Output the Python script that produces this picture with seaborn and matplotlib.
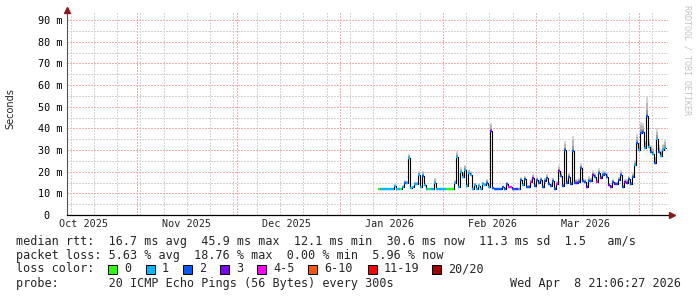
import matplotlib
matplotlib.use("Agg")
import numpy as np
import pandas as pd
import matplotlib.pyplot as plt
import matplotlib.dates as mdates
from matplotlib.patches import Rectangle
from matplotlib.ticker import MultipleLocator, FuncFormatter, NullFormatter
import seaborn as sns

# ---------------- data ----------------
start_time = "2026-01-12 11:40"
step_minutes = 866
view_start = "2025-10-10 22:30"
view_end = "2026-04-09 17:00"

median_ms = [
    12, 12, 12, 12, 12, 12, 12, 12, 13.5, 12, 12, 12, 13, 15, 15, 26.5, 12.5, 13,
    14.4, 14.4, 18.5, 13, 18, 14, 12, 12, 12, 12, 15, 12, 12, 12, 12, 12, 12, 12,
    12, 12, 15, 27, 13, 20, 17.7, 21, 13.5, 19.5, 18.6, 12, 14, 12, 13.5, 12, 14.4,
    14, 15, 13, 39, 12.5, 12, 12, 12, 12, 13, 12, 14.4, 13, 13, 12, 12, 12, 12,
    16.2, 14, 16.7, 13, 13, 15.3, 17, 13.5, 16.2, 15, 16.2, 13, 15.8, 17, 14.4, 13.5,
    15.8, 12, 14.4, 20.4, 18, 13.5, 30, 15, 17.7, 14.4, 29.5, 15, 15, 15.3, 21.8,
    15.8, 15.3, 13, 15.8, 15.8, 18.6,
    17.7, 15.3, 19.5, 17, 18.6, 19, 17.7, 14, 13, 15.3, 14.4, 14.4, 16.2, 18.6, 13,
    15.3, 15, 16.7, 14.4, 17.7, 23, 33.4, 30, 38, 38.5, 31, 45.5, 31.6, 29.2, 28.3,
    24, 35, 29.2, 27.4, 30, 31,
]
loss_bin = [
    0, 1, 1, 1, 1, 1, 1, 1, 1, 1, 1, 0, 1, 2, 1, 1, 1, 1, 1, 1, 1, 1, 2, 1, 1, 0,
    1, 1, 1, 1, 1, 1, 1, 1, 0, 0,
    0, 0, 1, 1, 1, 1, 1, 1, 1, 1, 1, 1, 1, 1, 1, 1, 1, 1, 2, 1, 3, 2, 2, 2, 2, 2,
    2, 2, 2, 4, 4, 2, 2, 3, 1,
    2, 1, 2, 2, 2, 4, 3, 2, 2, 2, 2, 2, 2, 2, 2, 2, 2, 2, 4, 3, 2, 2, 2, 2, 2, 2,
    2, 2, 3, 2, 2, 2, 2, 3, 2, 2, 3,
    2, 4, 2, 3, 2, 2, 2, 3, 3, 2, 3, 2, 2, 2, 2, 3, 3, 2, 2, 2, 1, 2, 1, 2, 2, 1,
    2, 1, 2, 1, 2, 1, 2, 1, 1, 1,
]
smoke_ms = [
    0, 0, 0, 0, 0, 0, 0, 0, 0.8, 0, 0, 0, 0.8, 1, 0.8, 1.8, 0.5, 0.5, 1, 1, 2, 0.5,
    2.5, 1, 0.3, 0, 0, 0, 2, 0.3, 0, 0, 0, 0, 0, 0,
    0, 0.3, 1, 2.5, 0.5, 2, 2, 2, 1, 1.5, 1.5, 0.5, 1, 0.3, 1, 0.3, 1, 1, 1.5, 1,
    3.5, 0.5, 0.3, 0.3, 0.3, 0.5, 0.5, 0.5, 0.8, 0.5, 0.5, 0.3, 0.3, 0.5, 0.5,
    1.5, 0.8, 1.5, 0.8, 1, 1.5, 2, 1, 1.5, 1, 1.5, 0.8, 1.5, 2, 1, 1, 1.5, 0.8, 1.5,
    2.5, 2, 1, 4, 1, 2, 1, 7, 1.5, 1.5, 2, 2, 1.5, 1.5, 1, 2, 1.5, 2,
    2, 1.5, 2, 1.5, 2, 1.5, 1.5, 1, 1, 1.5, 1, 1, 1.5, 2, 1, 1.5, 1.5, 1.5, 1, 2,
    2.5, 4, 3, 5, 4, 3, 9, 3, 3, 3, 3, 5, 3, 3, 3, 4,
]

loss_labels = ["0", "1", "2", "3", "4-5", "6-10", "11-19", "20/20"]
loss_colors = ["#26ff00", "#00b8ff", "#0059ff", "#7e00ff", "#ff00ff",
               "#ff5500", "#ff0000", "#a10000"]
month_labels = ["Oct 2025", "Nov 2025", "Dec 2025", "Jan 2026", "Feb 2026", "Mar 2026"]
month_label_dates = ["2025-10-16", "2025-11-16", "2025-12-16", "2026-01-16",
                     "2026-02-16", "2026-03-16"]

stats_line1 = "median rtt:  16.7 ms avg  45.9 ms max  12.1 ms min  30.6 ms now  11.3 ms sd  1.5   am/s"
stats_line2 = "packet loss: 5.63 % avg  18.76 % max  0.00 % min  5.96 % now"
loss_box_x = [108, 146, 183, 220, 257, 308, 368, 432]
probe_line = "probe:       20 ICMP Echo Pings (56 Bytes) every 300s"
stamp_text = "Wed Apr  8 21:06:27 2026"

# ---------------- style ----------------
sns.set_style("white")
plt.rcParams["font.family"] = ["DejaVu Sans Mono", "DejaVu Sans"]

W, H = 697, 297
fig = plt.figure(figsize=(W / 100, H / 100), dpi=100)
fig.patch.set_facecolor("white")
L, R, T, B = 67, 668, 13, 215
ax = fig.add_axes([L / W, (H - B) / H, (R - L) / W, (B - T) / H])
ax.set_facecolor("white")

times = pd.date_range(start=start_time, periods=len(median_ms), freq=f"{step_minutes}min")
tnum = mdates.date2num(times.to_pydatetime())
step_days = step_minutes / 1440.0
vals = np.array(median_ms, dtype=float)
smk = np.array(smoke_ms, dtype=float)

# smoke (ping spread) in three grey bands
bands = [(0.0, 0.35, "#9a9a9a"), (0.35, 0.7, "#b8b8b8"), (0.7, 1.0, "#d6d6d6")]
for lo, hi, col in bands:
    ax.bar(tnum, smk * (hi - lo), bottom=vals + smk * lo, width=step_days,
           align="edge", color=col, linewidth=0, zorder=2)

# black median step line
df = pd.DataFrame({"t": np.append(tnum, tnum[-1] + step_days),
                   "v": np.append(vals, vals[-1])})
sns.lineplot(data=df, x="t", y="v", drawstyle="steps-post", color="black",
             linewidth=0.8, estimator=None, sort=False, ax=ax, zorder=3)
# loss coloured median segments
ax.hlines(vals, tnum, tnum + step_days, colors=[loss_colors[b] for b in loss_bin],
          linewidth=1.7, zorder=4)

# axes limits
x0 = mdates.date2num(pd.Timestamp(view_start).to_pydatetime())
x1 = mdates.date2num(pd.Timestamp(view_end).to_pydatetime())
ax.set_xlim(x0, x1)
ax.set_ylim(0, (B - T) / (195 / 90))
ax.set_xlabel("")
ax.set_ylabel("")

# grid
red = "#f0b0b0"
grey = "#d4d4d4"
ax.xaxis.set_major_locator(mdates.MonthLocator())
ax.xaxis.set_minor_locator(mdates.WeekdayLocator(byweekday=mdates.SU))
ax.xaxis.set_major_formatter(NullFormatter())
ax.xaxis.set_minor_formatter(NullFormatter())
ax.yaxis.set_major_locator(MultipleLocator(10))
ax.yaxis.set_minor_locator(MultipleLocator(5))
ax.yaxis.set_major_formatter(FuncFormatter(lambda v, p: "0  " if v == 0 else f"{int(round(v))} m"))
ax.grid(which="minor", color=grey, linestyle=(0, (1, 1)), linewidth=0.75, antialiased=False)
ax.grid(which="major", color=red, linestyle=(0, (1, 1)), linewidth=0.75, antialiased=False)
ax.set_axisbelow(True)
ax.tick_params(axis="y", which="major", length=3, width=0.75, color=red, pad=0.5,
               labelsize=7.3, labelcolor="black")
ax.tick_params(axis="y", which="minor", length=3, width=0.75, color=grey)
ax.tick_params(axis="x", which="major", length=3, width=0.75, color=red)
ax.tick_params(axis="x", which="minor", length=2, width=0.75, color=grey)
for lab in ax.get_yticklabels():
    lab.set_family("DejaVu Sans Mono")

for s in ["top", "right"]:
    ax.spines[s].set_visible(False)
ax.spines["left"].set_color("#555555")
ax.spines["left"].set_linewidth(0.8)
ax.spines["bottom"].set_color("black")
ax.spines["bottom"].set_linewidth(0.9)
ax.spines["left"].set_zorder(5)
ax.spines["bottom"].set_zorder(5)

# arrows
ax.plot([0], [1 + 3 / (B - T)], marker="^", color="#8b1a1a", markersize=4.5,
        transform=ax.transAxes, clip_on=False, zorder=6)
ax.plot([1 + 4 / (R - L)], [0], marker=">", color="#8b1a1a", markersize=4.5,
        transform=ax.transAxes, clip_on=False, zorder=6)

# month labels (centred mid-month)
for lab, d in zip(month_labels, month_label_dates):
    xd = mdates.date2num(pd.Timestamp(d).to_pydatetime())
    ax.annotate(lab, xy=(xd, 0), xycoords=("data", "axes fraction"),
                xytext=(0, -9), textcoords="offset pixels", ha="center", va="center",
                fontsize=7.3, family="DejaVu Sans Mono")

# unit label and watermark
fig.text(10 / W, 1 - 109 / H, "Seconds", rotation=90, ha="center", va="center",
         fontsize=7, family="DejaVu Sans")
fig.text(687 / W, 1 - 60 / H, "RRDTOOL / TOBI OETIKER", rotation=270, ha="center",
         va="center", fontsize=6, color="#c4c4c4", family="DejaVu Sans Mono")

# legend / statistics
fs = 8.5
def put(s, x, y, ha="left"):
    fig.text(x / W, 1 - y / H, s, ha=ha, va="center", fontsize=fs, family="DejaVu Sans Mono")

put(stats_line1, 16, 241)
put(stats_line2, 16, 255)
put("loss color:", 16, 269)
for lab, col, x in zip(loss_labels, loss_colors, loss_box_x):
    fig.patches.append(Rectangle((x / W, 1 - 274 / H), 9 / W, 9 / H, transform=fig.transFigure,
                                 facecolor=col, edgecolor="black", linewidth=0.7))
    put(lab, x + 16, 269)
put(probe_line, 16, 283)
put(stamp_text, 681, 283, ha="right")

fig.savefig("out.png", dpi=100)
